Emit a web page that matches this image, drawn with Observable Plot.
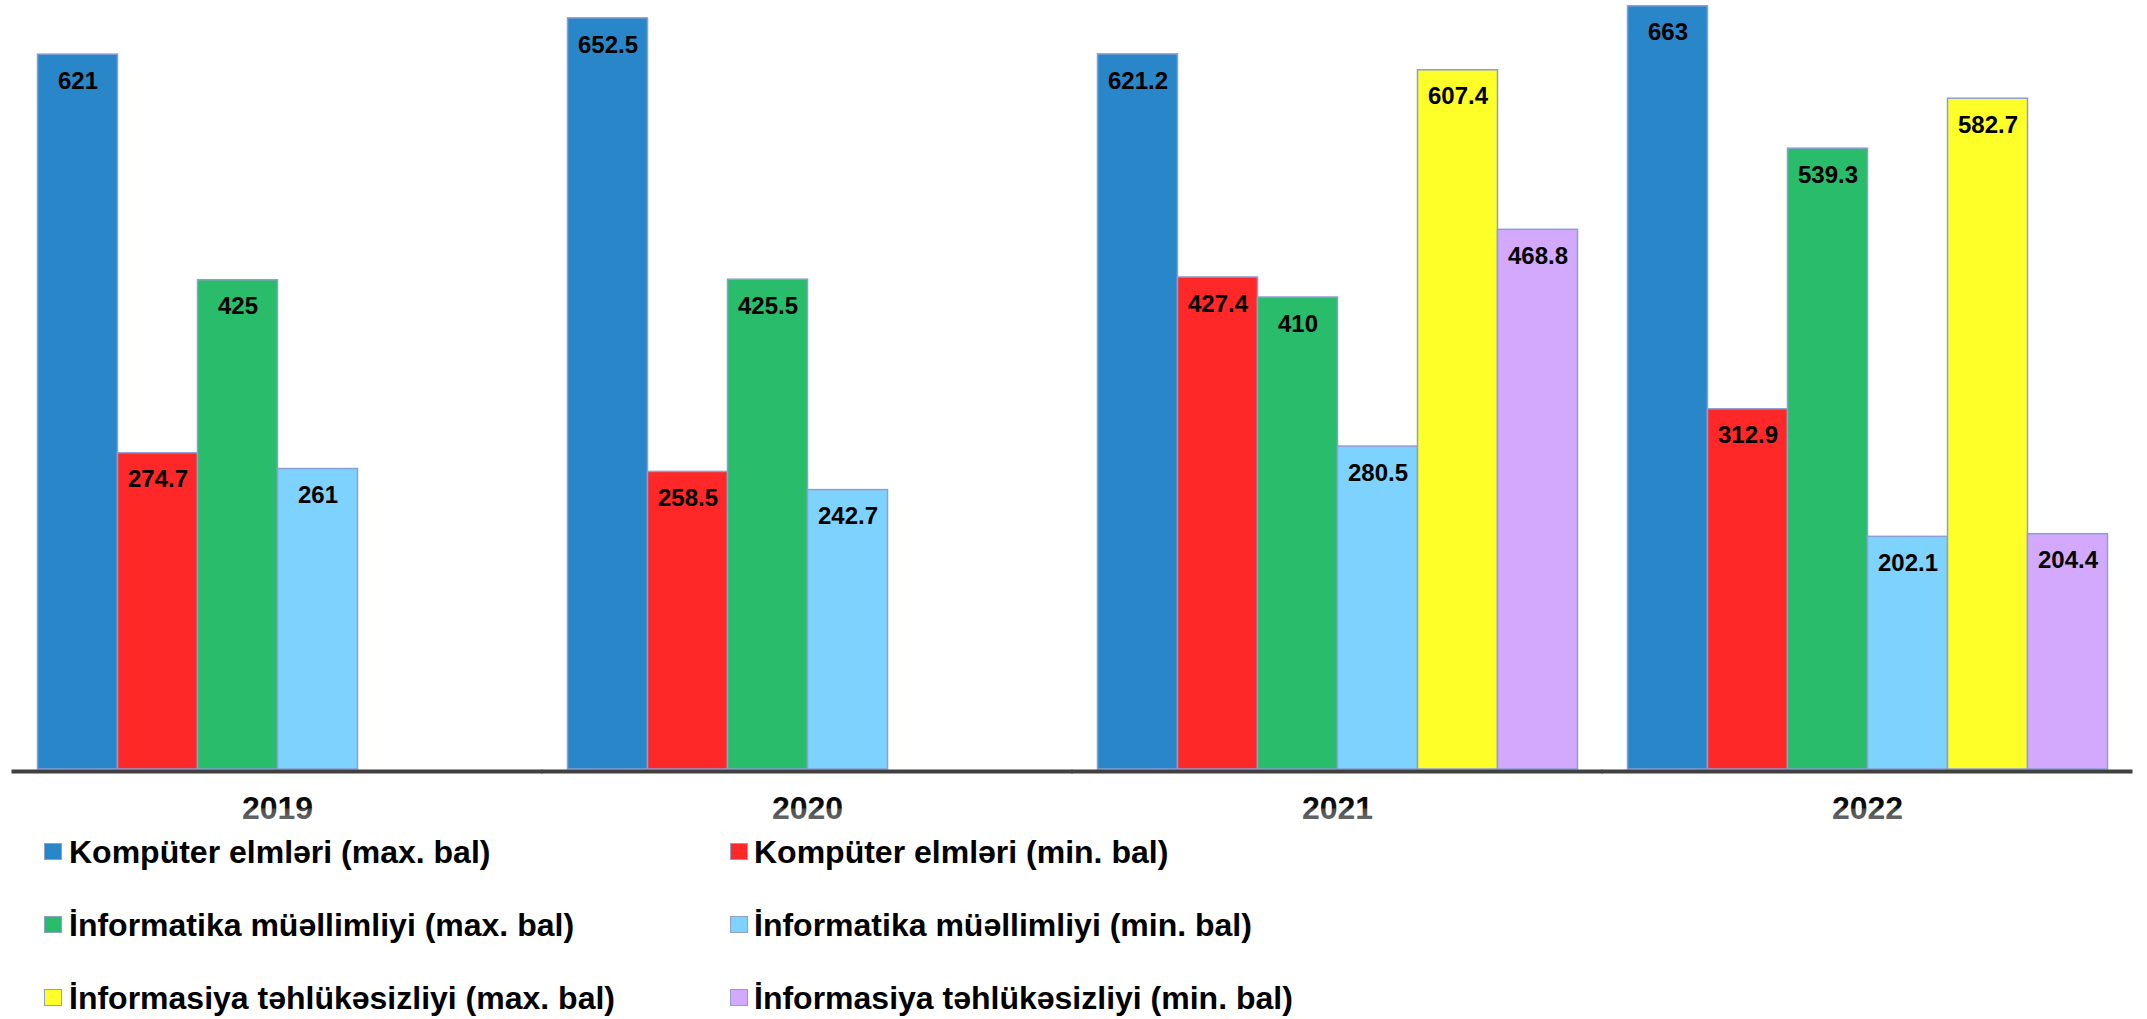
<!DOCTYPE html>
<html><head><meta charset="utf-8">
<script src="https://cdn.jsdelivr.net/npm/d3@7"></script>
<script src="https://cdn.jsdelivr.net/npm/@observablehq/plot@0.6"></script>
<style>
body{margin:0;background:#fff;font-family:"Liberation Sans",Arial,sans-serif;}
#wrap{position:relative;width:2147px;height:1019px;overflow:hidden;}
#wrap svg{position:absolute;left:0;top:0;}
.sw{position:absolute;width:16px;height:15px;border:1px solid #8f9fc8;box-sizing:content-box;}
.lt{position:absolute;font-size:32px;font-weight:bold;line-height:36px;white-space:nowrap;color:#000;}
</style></head><body><div id="wrap"></div>
<script>
const years = ["2019", "2020", "2021", "2022"];
const seriesNames = [
  "Kompüter elmləri (max. bal)",
  "Kompüter elmləri (min. bal)",
  "İnformatika müəllimliyi (max. bal)",
  "İnformatika müəllimliyi (min. bal)",
  "İnformasiya təhlükəsizliyi (max. bal)",
  "İnformasiya təhlükəsizliyi (min. bal)"
];
const colors = ["#2986c9", "#fe2828", "#28bc6b", "#7ed2fe", "#fefe28", "#d3a9fd"];
const kompMax = [621, 652.5, 621.2, 663];
const kompMin = [274.7, 258.5, 427.4, 312.9];
const infMuMax = [425, 425.5, 410, 539.3];
const infMuMin = [261, 242.7, 280.5, 202.1];
const infTehMax = [null, null, 607.4, 582.7];
const infTehMin = [null, null, 468.8, 204.4];

const seriesValues = [kompMax, kompMin, infMuMax, infMuMin, infTehMax, infTehMin];
const data = [];
years.forEach((yr, i) => {
  seriesValues.forEach((arr, s) => {
    if (arr[i] != null) data.push({year: yr, series: seriesNames[s], value: arr[i]});
  });
});

const chart = Plot.plot({
  width: 2147,
  height: 830,
  marginTop: 0,
  marginBottom: 61,
  marginLeft: 11.5,
  marginRight: 14,
  facet: {marginLeft: 0, marginRight: 0, marginTop: 0, marginBottom: 61},
  fx: {domain: years, paddingInner: 0.0949, paddingOuter: 0.0471, axis: null},
  x: {domain: seriesNames, padding: 0, axis: null},
  y: {domain: [0, 668], axis: null},
  color: {domain: seriesNames, range: colors},
  style: {fontFamily: "Liberation Sans, Arial, sans-serif", background: "transparent"},
  marks: [
    Plot.barY(data, {fx: "year", x: "series", y: "value", fill: "series", stroke: "#8d9ed2", strokeWidth: 1.5}),
    Plot.text(data, {fx: "year", x: "series", y: "value", text: d => String(d.value), dy: 26.5,
      fontSize: 24, fontWeight: "bold", fill: "#000", lineAnchor: "middle"}),
    Plot.text(years, {fx: d => d, text: d => d, frameAnchor: "bottom", dy: 39, lineAnchor: "middle",
      fontSize: 32, fontWeight: "bold", fill: "url(#yearGrad)"}),
    Plot.ruleY(years.map(yr => ({year: yr, v: 0})), {fx: "year", y: "v", stroke: "#404040", strokeWidth: 4,
      dy: 2, insetLeft: -25.5, insetRight: -25.5})
  ]
});

const ns = "http://www.w3.org/2000/svg";
const defs = document.createElementNS(ns, "defs");
defs.innerHTML = '<linearGradient id="yearGrad" x1="0" y1="0" x2="0" y2="1">' +
  '<stop offset="0" stop-color="#000"/><stop offset="0.5" stop-color="#111"/>' +
  '<stop offset="0.54" stop-color="#4a4a4a"/><stop offset="0.85" stop-color="#6a6a6a"/>' +
  '<stop offset="1" stop-color="#777"/></linearGradient>';
chart.insertBefore(defs, chart.firstChild);

const wrap = document.getElementById("wrap");
wrap.appendChild(chart);

// legend (two columns, three rows)
const colSwatchX = [44, 730];
const colTextX = [69, 754];
const rowBaseline = [863, 936, 1009];
seriesNames.forEach((name, i) => {
  const col = i % 2, row = Math.floor(i / 2);
  const sw = document.createElement("div");
  sw.className = "sw";
  sw.style.left = colSwatchX[col] + "px";
  sw.style.top = (rowBaseline[row] - 20.5) + "px";
  sw.style.background = colors[i];
  wrap.appendChild(sw);
  const t = document.createElement("div");
  t.className = "lt";
  t.style.left = colTextX[col] + "px";
  t.style.top = (rowBaseline[row] - 29) + "px";
  t.textContent = name;
  wrap.appendChild(t);
});
</script>
</body></html>
